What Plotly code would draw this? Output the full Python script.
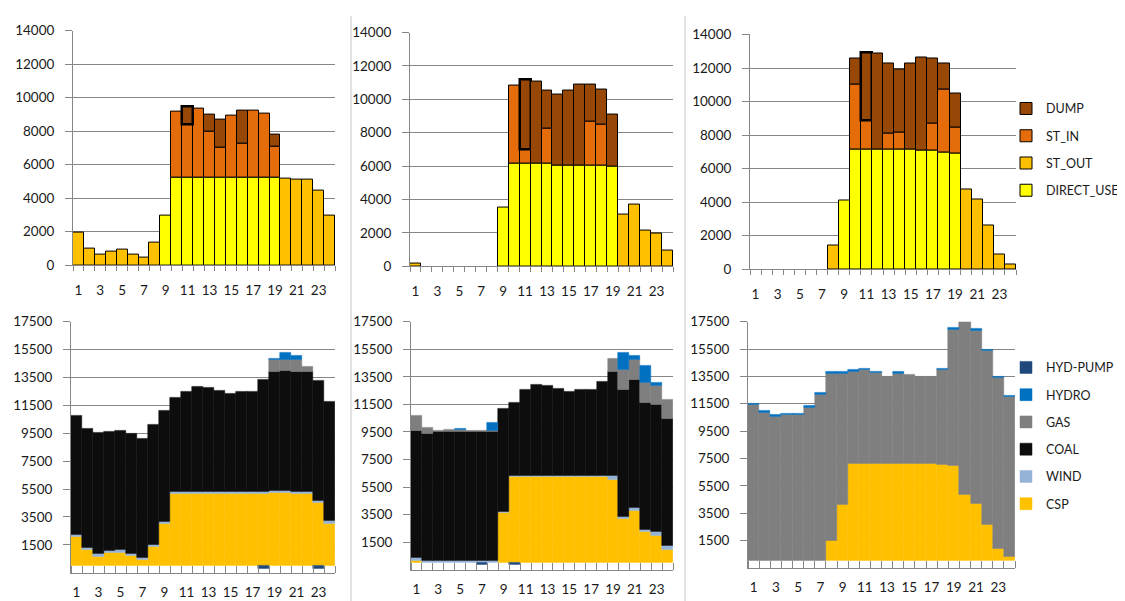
import plotly.graph_objects as go

hours = list(range(1, 25))
x_tick_vals = list(range(1, 24, 2))
x_tick_text = [str(h) for h in x_tick_vals]
top_y_ticks = [0, 2000, 4000, 6000, 8000, 10000, 12000, 14000]
bottom_y_ticks = [1500, 3500, 5500, 7500, 9500, 11500, 13500, 15500, 17500]

# ---------------- top row: CSP plant use ----------------
p1_direct = [0, 0, 0, 0, 0, 0, 0, 0, 2970, 5200, 5200, 5200, 5200, 5200, 5200, 5200, 5200, 5200, 5200, 0, 0, 0, 0, 0]
p1_st_out = [1950, 1000, 660, 800, 950, 660, 430, 1360, 0, 0, 0, 0, 0, 0, 0, 0, 0, 0, 0, 5180, 5120, 5120, 4440, 2970]
p1_st_in = [0, 0, 0, 0, 0, 0, 0, 0, 0, 3950, 3220, 4150, 2750, 1820, 3700, 2070, 4010, 3820, 1880, 0, 0, 0, 0, 0]
p1_dump = [0, 0, 0, 0, 0, 0, 0, 0, 0, 0, 1020, 0, 1010, 1650, 0, 1940, 0, 0, 720, 0, 0, 0, 0, 0]

p2_direct = [0, 0, 0, 0, 0, 0, 0, 0, 3500, 6120, 6120, 6120, 6120, 6030, 6030, 6030, 6030, 6030, 5990, 0, 0, 0, 0, 0]
p2_st_out = [130, 0, 0, 0, 0, 0, 0, 0, 0, 0, 0, 0, 0, 0, 0, 0, 0, 0, 0, 3110, 3710, 2140, 1940, 930]
p2_st_in = [0, 0, 0, 0, 0, 0, 0, 0, 0, 4710, 880, 0, 2100, 0, 0, 0, 2620, 2430, 0, 0, 0, 0, 0, 0]
p2_dump = [0, 0, 0, 0, 0, 0, 0, 0, 0, 0, 4180, 4960, 2320, 4240, 4510, 4840, 2220, 2140, 3110, 0, 0, 0, 0, 0]

p3_direct = [0, 0, 0, 0, 0, 0, 0, 0, 4100, 7130, 7130, 7130, 7130, 7130, 7130, 7070, 7050, 6970, 6910, 0, 0, 0, 0, 0]
p3_st_out = [0, 0, 0, 0, 0, 0, 0, 1390, 0, 0, 0, 0, 0, 0, 0, 0, 0, 0, 0, 4740, 4160, 2610, 850, 250]
p3_st_in = [0, 0, 0, 0, 0, 0, 0, 0, 0, 3890, 1720, 0, 950, 1020, 0, 0, 1610, 3720, 1550, 0, 0, 0, 0, 0]
p3_dump = [0, 0, 0, 0, 0, 0, 0, 0, 0, 1550, 4090, 5710, 4160, 3760, 5110, 5580, 3910, 1550, 2040, 0, 0, 0, 0, 0]

# ---------------- bottom row: generation mix ----------------
p4_csp = [2080, 1150, 660, 920, 970, 710, 450, 1360, 2990, 5170, 5170, 5170, 5170, 5170, 5170, 5170, 5170, 5170, 5220, 5220, 5200, 5170, 4520, 3010]
p4_wind = [120, 120, 190, 140, 160, 140, 120, 140, 160, 140, 140, 140, 140, 140, 140, 140, 140, 140, 160, 160, 140, 140, 160, 210]
p4_coal = [8560, 8530, 8670, 8580, 8580, 8650, 8560, 8600, 8000, 6720, 7190, 7560, 7470, 7280, 7050, 7190, 7190, 8000, 8560, 8610, 8580, 8590, 8560, 8580]
p4_gas = [0, 0, 0, 0, 0, 0, 0, 0, 0, 0, 0, 0, 0, 0, 0, 0, 0, 0, 820, 770, 840, 410, 0, 0]
p4_hydro = [0, 0, 0, 0, 0, 0, 0, 0, 0, 0, 0, 0, 0, 0, 0, 0, 0, 0, 110, 530, 300, 0, 0, 0]
p4_pump = [0, 0, 0, 0, 0, 0, 0, 0, 0, 0, 0, 0, 0, 0, 0, 0, 0, -200, 0, 0, 0, 0, -200, 0]

p5_csp = [160, 0, 0, 0, 0, 0, 0, 0, 3630, 6230, 6230, 6230, 6230, 6230, 6230, 6230, 6230, 6230, 6070, 3210, 3770, 2270, 1990, 980]
p5_wind = [190, 160, 160, 160, 160, 160, 160, 160, 120, 120, 120, 120, 120, 120, 120, 120, 120, 120, 260, 140, 260, 140, 260, 260]
p5_coal = [9230, 9230, 9370, 9370, 9370, 9370, 9370, 9370, 7470, 5290, 6230, 6560, 6510, 6320, 6090, 6230, 6230, 6790, 7560, 9230, 9230, 9210, 9210, 9230]
p5_gas = [1120, 430, 50, 120, 120, 50, 50, 50, 0, 0, 0, 0, 0, 0, 0, 0, 0, 0, 960, 1450, 1470, 1430, 1400, 1380]
p5_hydro = [0, 0, 0, 0, 100, 0, 0, 590, 0, 0, 0, 0, 0, 0, 0, 0, 0, 0, 0, 1240, 290, 1260, 190, 0]
p5_pump = [0, 0, 0, 0, 0, 0, -150, 0, 0, -150, 0, 0, 0, 0, 0, 0, 0, 0, 0, 0, 0, 0, 0, 0]

p6_csp = [0, 0, 0, 0, 0, 0, 0, 1480, 4120, 7120, 7120, 7120, 7120, 7120, 7120, 7120, 7120, 7020, 6950, 4830, 4170, 2680, 910, 300]
p6_wind = [0] * 24
p6_coal = [0] * 24
p6_gas = [11410, 10860, 10590, 10680, 10680, 11250, 12190, 12220, 9580, 6750, 6840, 6630, 6390, 6600, 6510, 6390, 6390, 6940, 9960, 12720, 12690, 12670, 12530, 11700]
p6_hydro = [100, 120, 120, 120, 120, 120, 120, 120, 120, 140, 140, 100, 0, 120, 0, 0, 0, 140, 140, 0, 100, 100, 70, 100]
p6_pump = [0] * 24

C_DIRECT, C_STOUT, C_STIN, C_DUMP = "#FFFF00", "#FFC000", "#E46C0A", "#974706"
C_CSP, C_WIND, C_COAL, C_GAS, C_HYDRO, C_PUMP = "#FFC000", "#95B3D7", "#0D0D0D", "#7F7F7F", "#0070C0", "#1F497D"

W, H = 1125, 601
FONT = "Lato"
TXT = "#1a1a1a"
AX = "#868686"

boxes = {
    1: (65, 327, 15, 256),
    2: (402, 665, 17, 257),
    3: (742, 1008, 19, 260),
    4: (63, 327, 314, 572),
    5: (403, 665, 314, 569),
    6: (740, 1007, 314, 567),
}


def nz(vals):
    return [v if v != 0 else None for v in vals]


def ax_names(k):
    return ("x" if k == 1 else f"x{k}", "y" if k == 1 else f"y{k}")


fig = go.Figure()

top_sets = [
    (1, p1_direct, p1_st_out, p1_st_in, p1_dump),
    (2, p2_direct, p2_st_out, p2_st_in, p2_dump),
    (3, p3_direct, p3_st_out, p3_st_in, p3_dump),
]
for k, d, so, si, du in top_sets:
    xa, ya = ax_names(k)
    series = [("DIRECT_USE", d, C_DIRECT), ("ST_OUT", so, C_STOUT),
              ("ST_IN", si, C_STIN), ("DUMP", du, C_DUMP)]
    for i, (name, vals, col) in enumerate(series):
        widths = [1] * 24
        if name == "DUMP":
            widths[10] = 2.5
        fig.add_trace(go.Bar(
            x=hours, y=nz(vals), name=name, xaxis=xa, yaxis=ya,
            marker=dict(color=col, line=dict(color="black", width=widths)),
            legend="legend", legendgroup=name, legendrank=100 - i,
            showlegend=(k == 3)))

bottom_sets = [
    (4, p4_csp, p4_wind, p4_coal, p4_gas, p4_hydro, p4_pump),
    (5, p5_csp, p5_wind, p5_coal, p5_gas, p5_hydro, p5_pump),
    (6, p6_csp, p6_wind, p6_coal, p6_gas, p6_hydro, p6_pump),
]
for k, cs, wi, co, ga, hy, pu in bottom_sets:
    xa, ya = ax_names(k)
    series = [("CSP", cs, C_CSP), ("WIND", wi, C_WIND), ("COAL", co, C_COAL),
              ("GAS", ga, C_GAS), ("HYDRO", hy, C_HYDRO), ("HYD-PUMP", pu, C_PUMP)]
    for i, (name, vals, col) in enumerate(series):
        fig.add_trace(go.Bar(
            x=hours, y=nz(vals), name=name, xaxis=xa, yaxis=ya,
            marker=dict(color=col, line=dict(color=col, width=0.5)),
            legend="legend2", legendgroup=name, legendrank=100 - i,
            showlegend=(k == 6)))

legend_common = dict(xanchor="left", yanchor="top", traceorder="grouped", tracegroupgap=8,
                     font=dict(family=FONT, size=12.5, color=TXT), bgcolor="rgba(0,0,0,0)")
layout = dict(
    width=W, height=H, margin=dict(l=0, r=0, t=0, b=0),
    paper_bgcolor="white", plot_bgcolor="white",
    barmode="relative", bargap=0,
    font=dict(family=FONT, size=13.5, color=TXT),
    legend=dict(x=998 / W, y=1 - 80 / H, **legend_common),
    legend2=dict(x=998 / W, y=1 - 346 / H, **legend_common),
    shapes=[
        dict(type="line", xref="paper", yref="paper", x0=343 / W, x1=343 / W, y0=0, y1=1,
             line=dict(color="#c8c8c8", width=1)),
        dict(type="line", xref="paper", yref="paper", x0=677 / W, x1=677 / W, y0=0, y1=1,
             line=dict(color="#c8c8c8", width=1)),
    ],
)

for k, (x0, x1, yt, yb) in boxes.items():
    top = k <= 3
    xkey = "xaxis" if k == 1 else f"xaxis{k}"
    ykey = "yaxis" if k == 1 else f"yaxis{k}"
    xa, ya = ax_names(k)
    yt_vals = top_y_ticks if top else bottom_y_ticks
    layout[xkey] = dict(
        domain=[x0 / W, x1 / W], anchor=ya, range=[0.5, 24.5],
        tickmode="array", tickvals=x_tick_vals, ticktext=x_tick_text, ticks="",
        showline=True, linecolor=AX, linewidth=1, showgrid=False, zeroline=False,
        ticklabelstandoff=13 if top else 7,
        minor=dict(tick0=0.5, dtick=1, ticks="outside" if top else "inside",
                   ticklen=5 if top else 7, tickcolor=AX, showgrid=False),
        tickfont=dict(family=FONT, size=13.5, color=TXT), fixedrange=True)
    layout[ykey] = dict(
        domain=[1 - yb / H, 1 - yt / H], anchor=xa,
        range=[0, 14000] if top else [-500, 17500],
        tickmode="array", tickvals=yt_vals, ticktext=[str(v) for v in yt_vals],
        showgrid=True, gridcolor=AX, gridwidth=1, zeroline=False,
        showline=True, linecolor=AX, linewidth=1,
        ticks="outside", ticklen=7, tickcolor=AX, ticklabelstandoff=8,
        tickfont=dict(family=FONT, size=13.5, color=TXT), fixedrange=True)

fig.update_layout(**layout)
fig.write_html("out.html")
